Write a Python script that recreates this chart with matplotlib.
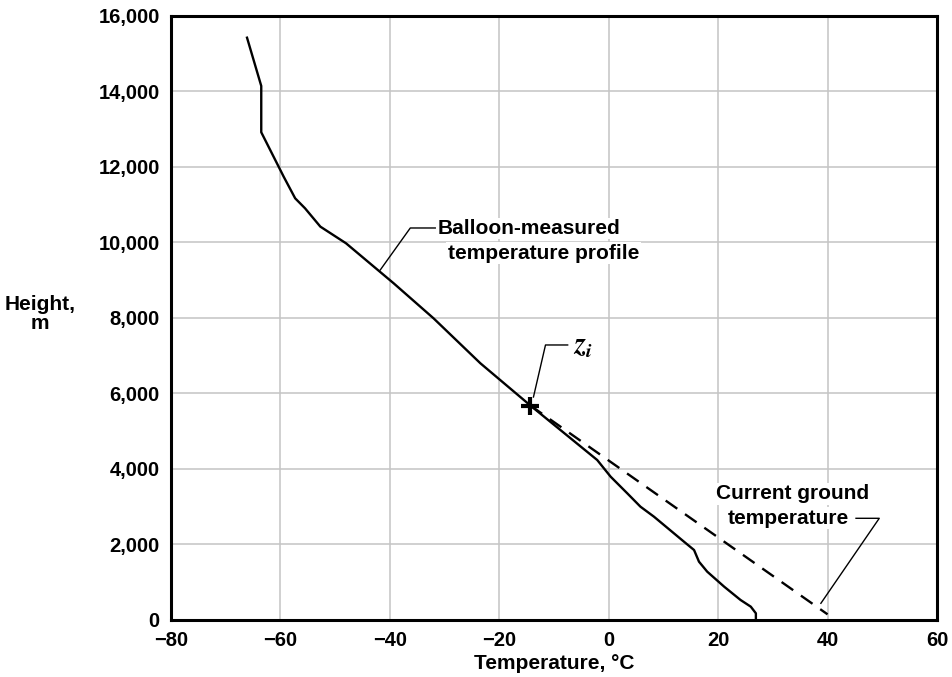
import numpy as np
import matplotlib.pyplot as plt

# balloon profile: temperature (C) vs height (m)
temp = [-66.1, -63.5, -63.5, -59.4, -57.3, -55.5, -52.7, -48.0, -39.3, -32.0,
        -23.45, -14.3, -2.1, 0.35, 3.4, 5.8, 8.27, 13.76, 15.6, 16.5, 18.0,
        21.1, 24.1, 25.97, 26.9, 26.9]
height = [15425, 14146, 12920, 11743, 11170, 10906, 10420, 9978, 8919, 7990,
          6800, 5680, 4238, 3797, 3355, 3002, 2737, 2074, 1854, 1545, 1281,
          883, 530, 353, 177, 0]

# dry adiabat from z_i down to ground
zi_t, zi_h = -14.3, 5680
ground_t, ground_h = 40.0, 150

xticks = [-80, -60, -40, -20, 0, 20, 40, 60]
yticks = list(range(0, 16001, 2000))

plt.rcParams['font.family'] = ['Liberation Sans', 'DejaVu Sans']
plt.rcParams['font.weight'] = 'bold'

fig = plt.figure(figsize=(9.53, 6.77), dpi=100)
ax = fig.add_axes([0.1794, 0.0842, 0.8038, 0.8922])

ax.plot(temp, height, color='black', lw=1.7, zorder=3)
ax.plot([zi_t, ground_t], [zi_h, ground_h], color='black', lw=1.7,
        dashes=(6, 4), zorder=3)
ax.plot([zi_t], [zi_h], marker='+', color='black', ms=13, mew=3, zorder=4)

ax.set_xlim(-80, 60)
ax.set_ylim(0, 16000)
ax.set_xticks(xticks)
ax.set_yticks(yticks)
ax.set_xticklabels(['\u2212' + str(-v) if v < 0 else str(v) for v in xticks])
ax.set_yticklabels(['{:,}'.format(v) for v in yticks])
ax.tick_params(length=0, labelsize=14.5, pad=8)
for lab in ax.get_xticklabels() + ax.get_yticklabels():
    lab.set_fontweight('bold')
ax.grid(True, color='#c4c4c4', lw=1.1, zorder=0)
ax.set_axisbelow(True)
for s in ax.spines.values():
    s.set_linewidth(2.2)

ax.set_xlabel('Temperature, \u00b0C', fontsize=15, fontweight='bold', labelpad=3)
fig.text(0.042, 0.536, 'Height,\nm', ha='center', va='center', fontsize=15,
         fontweight='bold', linespacing=1.0)

# leaders and labels
ax.plot([-41.75, -36.26, -31.7], [9272, 10384, 10384], color='black', lw=1.0, zorder=3)
ax.text(-31.2, 10370, 'Balloon-measured', ha='left', va='center', fontsize=15,
        fontweight='bold', zorder=5,
        bbox=dict(facecolor='white', edgecolor='none', pad=1))
ax.text(-29.4, 9720, 'temperature profile', ha='left', va='center', fontsize=15,
        fontweight='bold', zorder=5,
        bbox=dict(facecolor='white', edgecolor='none', pad=1))

ax.plot([-13.75, -11.55, -7.5], [5907, 7285, 7285], color='black', lw=1.0, zorder=3)
ax.text(-6.6, 7250, r'$z_i$', ha='left', va='center', fontsize=21,
        math_fontfamily='stix', zorder=5)

ax.plot([38.78, 49.45, 45.2], [442, 2694, 2694], color='black', lw=1.0, zorder=3)
ax.text(33.6, 3340, 'Current ground', ha='center', va='center', fontsize=15,
        fontweight='bold', zorder=5,
        bbox=dict(facecolor='white', edgecolor='none', pad=1))
ax.text(32.8, 2700, 'temperature', ha='center', va='center', fontsize=15,
        fontweight='bold', zorder=5,
        bbox=dict(facecolor='white', edgecolor='none', pad=1))

plt.savefig('out.png', dpi=100)
